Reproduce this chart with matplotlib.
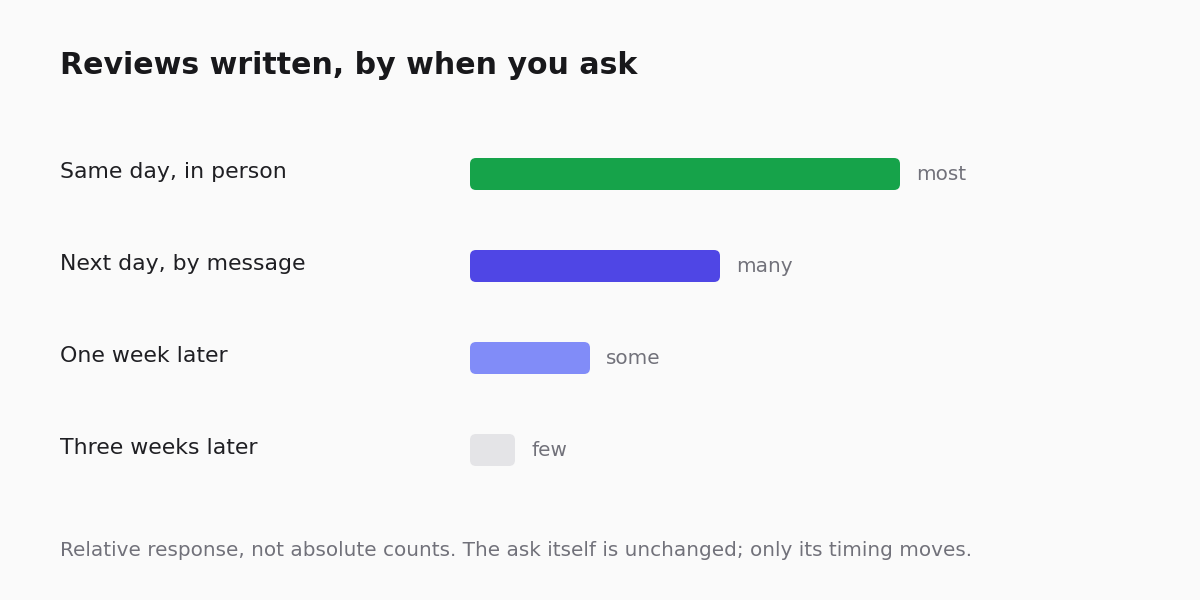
import matplotlib as mpl
mpl.use('Agg')
import matplotlib.pyplot as plt
from matplotlib.patches import FancyBboxPatch
from matplotlib import transforms

# data
categories = ["Same day, in person", "Next day, by message", "One week later", "Three weeks later"]
values = [86, 50, 24, 9]          # relative response, 0-100 scale
value_labels = ["most", "many", "some", "few"]
colors = ["#16a34a", "#4f46e5", "#818cf8", "#e4e4e7"]

title = "Reviews written, by when you ask"
note = "Relative response, not absolute counts. The ask itself is unchanged; only its timing moves."

W, H = 1200, 600
bg = "#fafafa"
fig = plt.figure(figsize=(W / 100, H / 100), dpi=100, facecolor=bg)

# axes placed in pixels: x 470..970 -> 0..100, rows 92 px apart
row_h = 92
top_px = 174 - row_h / 2
n = len(categories)
ax = fig.add_axes([470 / W, 1 - (top_px + n * row_h) / H, 500 / W, n * row_h / H])
ax.set_xlim(0, 100)
ax.set_ylim(-0.5, n - 0.5)
ax.axis('off')
ax.patch.set_alpha(0)

px_x = 100 / 500          # x units per pixel
px_y = 1 / row_h          # y units per pixel
bar_h = 32 * px_y
radius = 6 * px_x

lab_tf = transforms.blended_transform_factory(fig.transFigure, ax.transData)

for i, (cat, v, lab, c) in enumerate(zip(categories, values, value_labels, colors)):
    y = n - 1 - i
    box = FancyBboxPatch((0, y - bar_h / 2), v, bar_h,
                         boxstyle=f"round,pad=0,rounding_size={radius}",
                         mutation_aspect=px_y / px_x,
                         facecolor=c, edgecolor='none')
    ax.add_patch(box)
    ax.text(v + 16 * px_x, y - 1 * px_y, lab, va='center', ha='left',
            fontsize=14.4, color="#71717a")
    fig.text(60 / W, y + 2 * px_y, cat, transform=lab_tf, va='center', ha='left',
             fontsize=15.8, color="#1f1f23")

fig.text(60 / W, 1 - 74 / H, title, va='baseline', ha='left',
         fontsize=21.6, fontweight='bold', color="#18181b")
fig.text(60 / W, 1 - 556 / H, note, va='baseline', ha='left',
         fontsize=14.4, color="#71717a")

fig.savefig("out.png", dpi=100, facecolor=bg)
plt.close()
